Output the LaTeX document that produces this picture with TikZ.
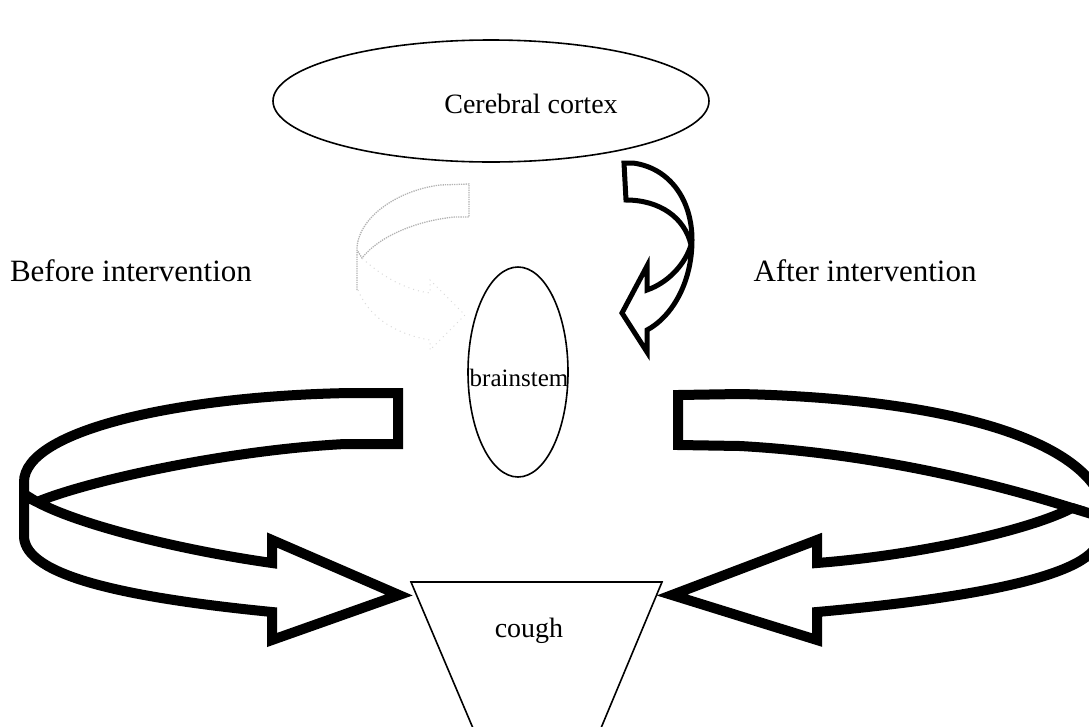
\documentclass[tikz,border=0pt]{standalone}
\usepackage{fontspec}
\setmainfont{Liberation Serif}
\usetikzlibrary{shapes.geometric}
\begin{document}
\begin{tikzpicture}[x=1pt,y=-1pt,
  bigribbon/.style={draw=black,line width=10pt,line join=miter,fill=white},
  smallribbon/.style={draw=black,line width=5pt,line join=miter,fill=white},
  faintribbon/.style={draw=gray!60,line width=1.3pt,densely dotted},
  fainterribbon/.style={draw=gray!30,line width=1pt,loosely dotted},
  shapeline/.style={draw=black,line width=1.6pt},
  lbl/.style={anchor=base,inner sep=0pt}]
\useasboundingbox (0,0) rectangle (1089,726);
\begin{scope}
\clip (0,0) rectangle (1089,726);
% cerebral cortex ellipse
\node[ellipse,shapeline,minimum width=436pt,minimum height=122pt,inner sep=0pt] (cortex) at (491,101) {};
\node[lbl,font=\fontsize{28}{30}\selectfont] (cortexT) at (531,113) {Cerebral cortex};
% brainstem
\node[ellipse,shapeline,minimum width=100pt,minimum height=210pt,inner sep=0pt] (brain) at (518,372) {};
\node[lbl,font=\fontsize{25}{27}\selectfont] (brainT) at (519,386) {brainstem};
% cough trapezoid
\coordinate (c1) at (411,582);
\coordinate (c2) at (662,582);
\coordinate (c3) at (596,740);
\coordinate (c4) at (478,740);
\draw[line width=1.6pt,line join=miter] (c4) -- (c1) -- (c2) -- (c3);
\node[lbl,font=\fontsize{28}{30}\selectfont] (coughT) at (529,637) {cough};
% side labels
\node[lbl,font=\fontsize{31}{33}\selectfont] (before) at (131,281) {Before intervention};
\node[lbl,font=\fontsize{31}{33}\selectfont] (after) at (865,281) {After intervention};
% faint arrow (before intervention): upper part
\draw[faintribbon] (357,290) -- (357,247) .. controls (360,215) and (400,190) .. (440,185)
  -- (469,184) -- (469,217) -- (455,217) .. controls (420,220) and (380,235) .. (362,258) -- (357,250);
% faint arrow: lower part, barely visible
\draw[fainterribbon] (358,290) .. controls (370,320) and (400,335) .. (430,340) -- (430,350) -- (465,315)
  -- (430,280) -- (430,293) .. controls (405,290) and (380,275) .. (362,258);
% small curved arrow (after intervention)
\draw[smallribbon] (624,163) -- (633,163) .. controls (670,168) and (692,200) .. (692,240)
  .. controls (692,285) and (670,318) .. (647,330) -- (647,352) -- (622,313) -- (647,266)
  -- (647,290) .. controls (670,282) and (686,262) .. (691,245)
  .. controls (685,218) and (660,200) .. (626,200) -- cycle;
% big left ribbon arrow
\draw[bigribbon] (398,393) -- (350,393) .. controls (180,396) and (24,430) .. (24,482)
  -- (24,537) .. controls (26,575) and (120,597) .. (272,612) -- (272,640) -- (399,595)
  -- (272,540) -- (272,563) .. controls (180,550) and (80,525) .. (37,502)
  .. controls (90,480) and (230,450) .. (345,444) -- (398,444) -- cycle;
\draw[black,line width=10pt] (37,502) -- (24,494);
% big right ribbon arrow
\draw[bigribbon] (678,395) -- (740,394) .. controls (920,398) and (1060,430) .. (1097,490)
  -- (1097,545) .. controls (1080,580) and (950,600) .. (817,612) -- (817,640) -- (672,595)
  -- (817,540) -- (817,563) .. controls (920,555) and (1030,530) .. (1072,508)
  .. controls (1030,495) and (900,455) .. (740,446) -- (678,445) -- cycle;
\draw[black,line width=10pt] (1072,508) -- (1095,515);
\end{scope}
\end{tikzpicture}
\end{document}
